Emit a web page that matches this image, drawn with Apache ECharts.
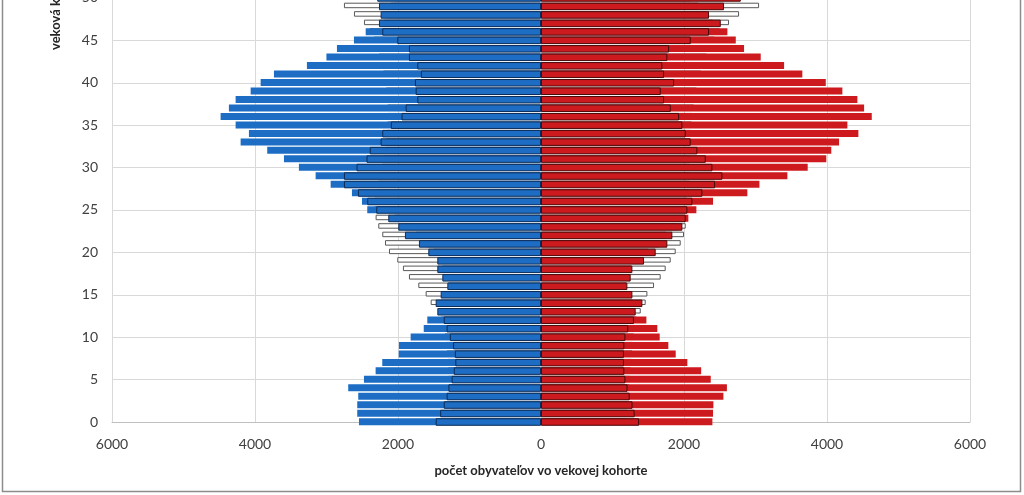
<!DOCTYPE html>
<html>
<head>
<meta charset="utf-8">
<script src="https://cdn.jsdelivr.net/npm/echarts@6/dist/echarts.min.js"></script>
<style>
html,body{margin:0;padding:0;background:#fff;overflow:hidden;width:1024px;height:495px;}
#chart{position:absolute;left:0;top:-20px;width:1024px;height:515px;}
</style>
</head>
<body>
<div id="chart"></div>
<script>
// age categories (0 at the bottom)
const ages = ['0','1','2','3','4','5','6','7','8','9','10','11','12','13','14','15','16','17','18','19','20',
  '21','22','23','24','25','26','27','28','29','30','31','32','33','34','35','36','37','38','39','40',
  '41','42','43','44','45','46','47','48','49','50','51','52'];
const xTicks = [-6000, -4000, -2000, 0, 2000, 4000, 6000];

// men (left side), ages 0..50
const maleWhite = [1250,1260,1270,1280,1290,1300,1300,1310,1320,1330,1350,1380,1400,1430,1543,1613,1716,1847,1931,2010,
  2126,2182,2220,2276,2313,2330,2330,2300,2280,2250,2230,2200,2180,2170,2160,2150,2150,2150,2160,2170,
  2190,2210,2240,2270,2300,2340,2400,2476,2616,2756,3012];
const maleOuter = [2546,2570,2570,2556,2696,2476,2313,2220,1990,1987,1823,1640,1590,1420,1400,1350,1290,1330,1380,1420,
  1500,1600,1750,1900,2050,2430,2504,2644,2942,3152,3386,3595,3829,4201,4085,4271,4481,4365,4271,4061,
  3921,3735,3274,3001,2854,2616,2452,2200,2150,2100,2050];
const maleInner = [1473,1410,1360,1320,1295,1250,1220,1198,1205,1230,1275,1320,1360,1450,1473,1403,1310,1380,1450,1450,
  1576,1707,1903,1996,2136,2304,2430,2560,2756,2756,2580,2440,2395,2243,2220,2100,1950,1893,1730,1753,
  1763,1680,1730,1847,1847,2010,2220,2266,2243,2266,2290];

// women (right side), ages 0..50
const femaleWhite = [1200,1210,1220,1230,1240,1250,1260,1270,1280,1290,1300,1320,1340,1395,1464,1488,1581,1674,1744,1814,
  1884,1954,2000,2024,2000,2020,2050,2070,2080,2080,2080,2080,2080,2090,2100,2110,2120,2140,2160,2180,
  2210,2240,2280,2320,2370,2430,2500,2630,2770,3050,3306];
const femaleOuter = [2397,2406,2411,2551,2600,2374,2240,2047,1884,1781,1660,1627,1474,1300,1280,1250,1190,1230,1260,1400,
  1500,1650,1750,1900,2061,2173,2406,2886,3055,3446,3730,3990,4060,4169,4439,4285,4626,4519,4425,4215,
  3983,3655,3400,3073,2840,2724,2607,2400,2300,2200,2100];
const femaleInner = [1371,1310,1280,1240,1210,1180,1165,1160,1160,1165,1180,1220,1300,1324,1418,1278,1208,1254,1278,1441,
  1604,1767,1837,1977,2024,2047,2117,2257,2434,2537,2397,2304,2187,2094,2024,1977,1931,1815,1721,1675,
  1861,1721,1697,1767,1791,2094,2350,2514,2350,2560,2794];

const BLUE = '#1d6dc4', RED = '#cc1a1f';
function bar(name, data, color, borderColor, borderWidth, width) {
  return {
    type: 'bar', name: name, data: data, barWidth: width, barGap: '-100%', clip: false, silent: true,
    itemStyle: { color: color, borderColor: borderColor, borderWidth: borderWidth }
  };
}
const neg = a => a.map(v => -v);

const chart = echarts.init(document.getElementById('chart'), null, { renderer: 'canvas' });
chart.setOption({
  animation: false,
  backgroundColor: '#ffffff',
  grid: { left: 112, right: 54, top: 1, height: 441, containLabel: false },
  xAxis: {
    type: 'value', min: xTicks[0], max: xTicks[xTicks.length - 1], interval: 2000,
    axisLabel: { formatter: v => String(Math.abs(v)), color: '#404040', fontFamily: 'Lato', fontSize: 14, margin: 15 },
    axisLine: { show: true, lineStyle: { color: '#bfbfbf', width: 1 } },
    axisTick: { show: false },
    splitLine: { show: true, lineStyle: { color: '#d9d9d9', width: 1 } },
    name: 'počet obyvateľov vo vekovej kohorte', nameLocation: 'middle', nameGap: 42,
    nameTextStyle: { fontFamily: 'Lato', fontWeight: 'bold', fontSize: 13, color: '#262626' }
  },
  yAxis: {
    type: 'category', data: ages, boundaryGap: false,
    axisLabel: { interval: 4, color: '#404040', fontFamily: 'Lato', fontSize: 14, margin: 14 },
    axisLine: { show: false }, axisTick: { show: false },
    splitLine: { show: true, interval: 4, lineStyle: { color: '#d9d9d9', width: 1 } }
  },
  series: [
    bar('muži A', neg(maleWhite), '#ffffff', '#595959', 1, 5.5),
    bar('ženy A', femaleWhite, '#ffffff', '#595959', 1, 5.5),
    bar('muži B', neg(maleOuter), BLUE, BLUE, 0, 7),
    bar('ženy B', femaleOuter, RED, RED, 0, 7),
    bar('muži C', neg(maleInner), BLUE, '#0d2c57', 1, 7.5),
    bar('ženy C', femaleInner, RED, '#4a0b0b', 1, 7.5)
  ],
  graphic: [
    { type: 'polyline', silent: true, z: 100,
      shape: { points: [[2.5, 10], [2.5, 511.5], [1020.5, 511.5], [1020.5, 10]] },
      style: { stroke: '#8c8c8c', fill: null, lineWidth: 1.5 } },
    { type: 'text', x: 56, y: 70, rotation: Math.PI / 2, silent: true,
      style: { text: 'veková kohorta', font: 'bold 13px Lato', fill: '#262626', align: 'left', verticalAlign: 'middle' } }
  ]
});
</script>
</body>
</html>
